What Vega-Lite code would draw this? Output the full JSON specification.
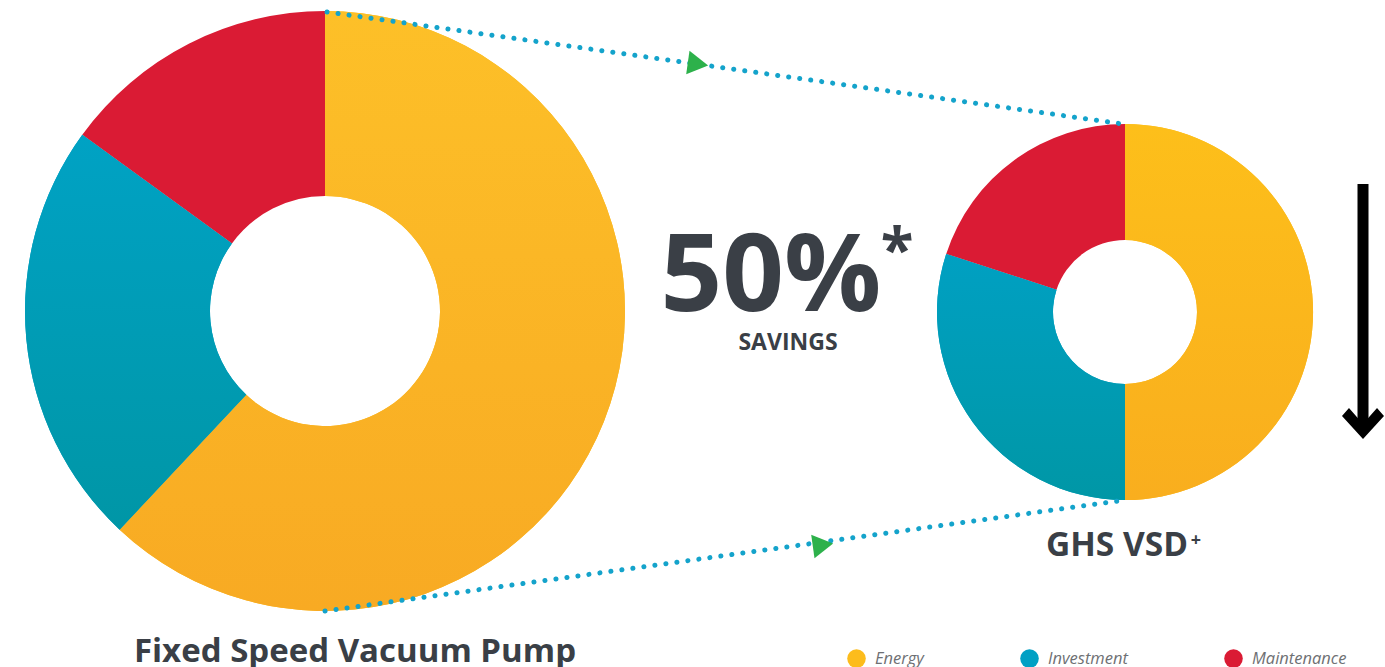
{
  "$schema": "https://vega.github.io/schema/vega-lite/v6.json",
  "width": 1385,
  "height": 667,
  "padding": 0,
  "autosize": {"type": "none"},
  "background": "white",
  "config": {"view": {"stroke": null}, "font": "Open Sans"},
  "data": {
    "values": [
      {"pump": "Fixed Speed Vacuum Pump", "category": "Energy", "value": 62},
      {"pump": "Fixed Speed Vacuum Pump", "category": "Investment", "value": 23},
      {"pump": "Fixed Speed Vacuum Pump", "category": "Maintenance", "value": 15},
      {"pump": "GHS VSD+", "category": "Energy", "value": 25},
      {"pump": "GHS VSD+", "category": "Investment", "value": 15},
      {"pump": "GHS VSD+", "category": "Maintenance", "value": 10}
    ]
  },
  "encoding": {
    "x": {"type": "quantitative", "scale": {"domain": [0, 1385], "nice": false, "zero": false}, "axis": null},
    "y": {"type": "quantitative", "scale": {"domain": [0, 667], "reverse": true, "nice": false, "zero": false}, "axis": null}
  },
  "layer": [
    {
      "transform": [{"filter": "datum.pump === 'Fixed Speed Vacuum Pump'"}],
      "mark": {"type": "arc", "radius": 300, "radius2": 115, "stroke": null},
      "encoding": {
        "x": {"datum": 325, "type": "quantitative"},
        "y": {"datum": 311, "type": "quantitative"},
        "theta": {"field": "value", "type": "quantitative", "stack": true},
        "order": {"field": "category", "sort": "ascending"},
        "color": {
          "field": "category", "type": "nominal",
          "scale": {"domain": ["Energy", "Investment", "Maintenance"], "range": ["#FCBC1C", "#01A0C4", "#DA1B34"]},
          "legend": {
            "orient": "none", "legendX": 847, "legendY": 649, "direction": "horizontal",
            "title": null, "symbolType": "circle", "symbolSize": 346, "symbolStrokeWidth": 0, "symbolOpacity": 1,
            "labelFont": "Open Sans", "labelFontStyle": "italic", "labelFontSize": 16.5, "labelColor": "#6E7073",
            "labelOffset": 9, "columnPadding": 96, "labelBaseline": "middle"
          }
        }
      }
    },
    {
      "transform": [{"filter": "datum.pump === 'GHS VSD+'"}],
      "mark": {"type": "arc", "radius": 188, "radius2": 72, "stroke": null},
      "encoding": {
        "x": {"datum": 1125, "type": "quantitative"},
        "y": {"datum": 312, "type": "quantitative"},
        "theta": {"field": "value", "type": "quantitative", "stack": true},
        "order": {"field": "category", "sort": "ascending"},
        "color": {"field": "category", "type": "nominal"}
      }
    },
    {
      "transform": [
        {"filter": "datum.pump === 'Fixed Speed Vacuum Pump'"},
        {"stack": "value", "groupby": [], "sort": [{"field": "category", "order": "ascending"}], "as": ["v0", "v1"]},
        {"filter": "datum.category === 'Energy'"}
      ],
      "mark": {"type": "arc", "radius": 300, "radius2": 115, "stroke": null,
        "color": {"gradient": "linear", "x1": 0, "y1": 0, "x2": 0, "y2": 1, "stops": [{"offset": 0, "color": "#FDC028"}, {"offset": 1, "color": "#F8AA23"}]}},
      "encoding": {
        "x": {"datum": 325, "type": "quantitative"},
        "y": {"datum": 311, "type": "quantitative"},
        "theta": {"field": "v0", "type": "quantitative", "scale": {"domain": [0, 100]}},
        "theta2": {"field": "v1"}
      }
    },
    {
      "transform": [
        {"filter": "datum.pump === 'Fixed Speed Vacuum Pump'"},
        {"stack": "value", "groupby": [], "sort": [{"field": "category", "order": "ascending"}], "as": ["v0", "v1"]},
        {"filter": "datum.category === 'Investment'"}
      ],
      "mark": {"type": "arc", "radius": 300, "radius2": 115, "stroke": null,
        "color": {"gradient": "linear", "x1": 0, "y1": 0, "x2": 0, "y2": 1, "stops": [{"offset": 0, "color": "#00A2C4"}, {"offset": 1, "color": "#0096A6"}]}},
      "encoding": {
        "x": {"datum": 325, "type": "quantitative"},
        "y": {"datum": 311, "type": "quantitative"},
        "theta": {"field": "v0", "type": "quantitative", "scale": {"domain": [0, 100]}},
        "theta2": {"field": "v1"}
      }
    },
    {
      "transform": [
        {"filter": "datum.pump === 'GHS VSD+'"},
        {"stack": "value", "groupby": [], "sort": [{"field": "category", "order": "ascending"}], "as": ["v0", "v1"]},
        {"filter": "datum.category === 'Energy'"}
      ],
      "mark": {"type": "arc", "radius": 188, "radius2": 72, "stroke": null,
        "color": {"gradient": "linear", "x1": 0, "y1": 0, "x2": 0, "y2": 1, "stops": [{"offset": 0, "color": "#FDBF1A"}, {"offset": 1, "color": "#F9AE1E"}]}},
      "encoding": {
        "x": {"datum": 1125, "type": "quantitative"},
        "y": {"datum": 312, "type": "quantitative"},
        "theta": {"field": "v0", "type": "quantitative", "scale": {"domain": [0, 50]}},
        "theta2": {"field": "v1"}
      }
    },
    {
      "transform": [
        {"filter": "datum.pump === 'GHS VSD+'"},
        {"stack": "value", "groupby": [], "sort": [{"field": "category", "order": "ascending"}], "as": ["v0", "v1"]},
        {"filter": "datum.category === 'Investment'"}
      ],
      "mark": {"type": "arc", "radius": 188, "radius2": 72, "stroke": null,
        "color": {"gradient": "linear", "x1": 0, "y1": 0, "x2": 0, "y2": 1, "stops": [{"offset": 0, "color": "#00A0C2"}, {"offset": 1, "color": "#0097A6"}]}},
      "encoding": {
        "x": {"datum": 1125, "type": "quantitative"},
        "y": {"datum": 312, "type": "quantitative"},
        "theta": {"field": "v0", "type": "quantitative", "scale": {"domain": [0, 50]}},
        "theta2": {"field": "v1"}
      }
    },
    {
      "data": {"values": [{}]},
      "mark": {"type": "rule", "color": "#14A3CB", "strokeWidth": 5, "strokeDash": [0.1, 11], "strokeCap": "round"},
      "encoding": {
        "x": {"datum": 327, "type": "quantitative"},
        "y": {"datum": 12, "type": "quantitative"},
        "x2": {"datum": 1123},
        "y2": {"datum": 124}
      }
    },
    {
      "data": {"values": [{}]},
      "mark": {"type": "rule", "color": "#14A3CB", "strokeWidth": 5, "strokeDash": [0.1, 11], "strokeCap": "round"},
      "encoding": {
        "x": {"datum": 325, "type": "quantitative"},
        "y": {"datum": 611, "type": "quantitative"},
        "x2": {"datum": 1125},
        "y2": {"datum": 500}
      }
    },
    {
      "data": {"values": [{}]},
      "mark": {"type": "point", "shape": "triangle-right", "filled": true, "color": "#2DB14B", "size": 560, "angle": 8, "opacity": 1},
      "encoding": {
        "x": {"datum": 698, "type": "quantitative"},
        "y": {"datum": 64, "type": "quantitative"}
      }
    },
    {
      "data": {"values": [{}]},
      "mark": {"type": "point", "shape": "triangle-right", "filled": true, "color": "#2DB14B", "size": 560, "angle": -8, "opacity": 1},
      "encoding": {
        "x": {"datum": 823, "type": "quantitative"},
        "y": {"datum": 545, "type": "quantitative"}
      }
    },
    {
      "data": {"values": [{}]},
      "mark": {"type": "rule", "color": "#000000", "strokeWidth": 11},
      "encoding": {
        "x": {"datum": 1363, "type": "quantitative"},
        "y": {"datum": 184, "type": "quantitative"},
        "y2": {"datum": 428}
      }
    },
    {
      "data": {"values": [{}]},
      "mark": {"type": "point", "shape": "M0,0.762L-1,-0.333L-0.667,-0.714L0,0.048L0.667,-0.714L1,-0.333Z", "filled": true, "color": "#000000", "size": 1764, "opacity": 1, "strokeWidth": 0},
      "encoding": {
        "x": {"datum": 1363, "type": "quantitative"},
        "y": {"datum": 423, "type": "quantitative"}
      }
    },
    {
      "data": {"values": [{"t": "50%"}]},
      "mark": {"type": "text", "font": "Open Sans", "fontWeight": "bold", "fontSize": 108, "color": "#3A3F46", "align": "center", "baseline": "alphabetic"},
      "encoding": {
        "x": {"datum": 771, "type": "quantitative"},
        "y": {"datum": 311, "type": "quantitative"},
        "text": {"field": "t"}
      }
    },
    {
      "data": {"values": [{"t": "*"}]},
      "mark": {"type": "text", "font": "Open Sans", "fontWeight": "bold", "fontSize": 60, "color": "#3A3F46", "align": "center", "baseline": "alphabetic"},
      "encoding": {
        "x": {"datum": 897, "type": "quantitative"},
        "y": {"datum": 271, "type": "quantitative"},
        "text": {"field": "t"}
      }
    },
    {
      "data": {"values": [{"t": "SAVINGS"}]},
      "mark": {"type": "text", "font": "Open Sans", "fontWeight": "bold", "fontSize": 23, "color": "#3A3F46", "align": "center", "baseline": "alphabetic"},
      "encoding": {
        "x": {"datum": 788, "type": "quantitative"},
        "y": {"datum": 350, "type": "quantitative"},
        "text": {"field": "t"}
      }
    },
    {
      "data": {"values": [{"t": "Fixed Speed Vacuum Pump"}]},
      "mark": {"type": "text", "font": "Open Sans", "fontWeight": "bold", "fontSize": 33, "color": "#3A3F46", "align": "center", "baseline": "alphabetic"},
      "encoding": {
        "x": {"datum": 355, "type": "quantitative"},
        "y": {"datum": 662, "type": "quantitative"},
        "text": {"field": "t"}
      }
    },
    {
      "data": {"values": [{"t": "GHS VSD"}]},
      "mark": {"type": "text", "font": "Open Sans", "fontWeight": "bold", "fontSize": 33.5, "color": "#3A3F46", "align": "center", "baseline": "alphabetic"},
      "encoding": {
        "x": {"datum": 1117, "type": "quantitative"},
        "y": {"datum": 556, "type": "quantitative"},
        "text": {"field": "t"}
      }
    },
    {
      "data": {"values": [{"t": "+"}]},
      "mark": {"type": "text", "font": "Open Sans", "fontWeight": "bold", "fontSize": 18, "color": "#3A3F46", "align": "center", "baseline": "alphabetic"},
      "encoding": {
        "x": {"datum": 1196, "type": "quantitative"},
        "y": {"datum": 546, "type": "quantitative"},
        "text": {"field": "t"}
      }
    }
  ],
  "resolve": {"scale": {"theta": "independent"}}
}
